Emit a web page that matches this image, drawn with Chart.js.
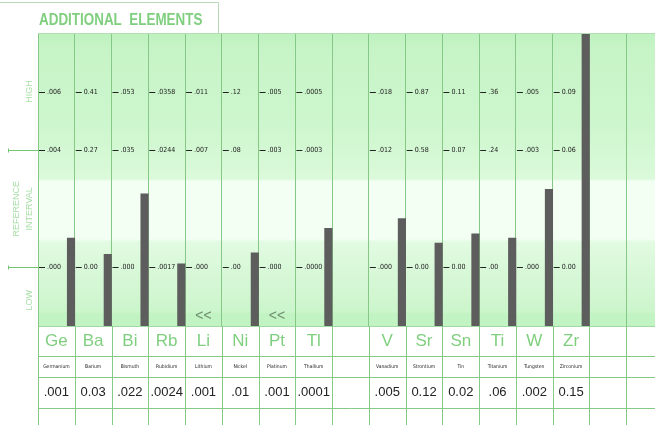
<!DOCTYPE html>
<html><head><meta charset="utf-8">
<script src="https://cdn.jsdelivr.net/npm/chart.js@4.4.0/dist/chart.umd.min.js"></script>
<style>html,body{margin:0;padding:0;overflow:hidden;background:#fff;width:655px;height:425px}canvas{display:block}</style>
</head><body><canvas id="c" width="663" height="425"></canvas>
<script>
// ---- data ----
const symbols   = ['Ge','Ba','Bi','Rb','Li','Ni','Pt','Tl','','V','Sr','Sn','Ti','W','Zr','',''];
const names     = ['Germanium','Barium','Bismuth','Rubidium','Lithium','Nickel','Platinum','Thallium','','Vanadium','Strontium','Tin','Titanium','Tungsten','Zirconium','',''];
const resultText= ['.001','0.03','.022','.0024','.001','.01','.001','.0001','','.005','0.12','0.02','.06','.002','0.15','',''];
const lowRef    = ['.000','0.00','.000','.0017','.000','.00','.000','.0000','','.000','0.00','0.00','.00','.000','0.00','',''];
const highRef   = ['.004','0.27','.035','.0244','.007','.08','.003','.0003','','.012','0.58','0.07','.24','.003','0.06','',''];
const highLevel = ['.006','0.41','.053','.0358','.011','.12','.005','.0005','','.018','0.87','0.11','.36','.005','0.09','',''];
const belowFlag = [false,false,false,false,true,false,true,false,false,false,false,false,false,false,false,false,false];
const tickLevels = [0, 1, 1.5];          // low ref, high ref, "high" marker (in reference-interval units)
const zoneLabels = [['HIGH'], ['REFERENCE','INTERVAL'], ['LOW']];
const zoneLevels = [1.5, 0.5, -0.28];
const heading = 'ADDITIONAL  ELEMENTS';

// bar heights expressed in reference-interval units: (result-low)/(high-low)
const barValues = resultText.map((t, i) => {
  if (!t || belowFlag[i]) return null;
  const v = parseFloat(t), lo = parseFloat(lowRef[i]), hi = parseFloat(highRef[i]);
  return (v - lo) / (hi - lo);
});

const NARROW = "'Liberation Sans Narrow','Arial Narrow','DejaVu Sans Condensed',sans-serif";
const SANS = "'Liberation Sans',Arial,sans-serif";
const GREEN_TXT = '#7fcf7f';
const LINE = '#86c986';
const BAR_W = 7.5;

const bgPlugin = {
  id: 'bg',
  beforeDraw(chart) {
    const {ctx, chartArea: a} = chart;
    const h = a.bottom - a.top;
    const g = ctx.createLinearGradient(0, a.top, 0, a.bottom);
    const st = (py, c) => g.addColorStop(Math.min(1, Math.max(0, (py - a.top) / h)), c);
    st(33,'#bff1bf'); st(50,'#c7f4c7'); st(120,'#cdf6cd'); st(150,'#d3f8d3'); st(179,'#dbfadb');
    st(181,'#f3fff3'); st(239,'#f3fff3'); st(242,'#e2fbe2'); st(268,'#d9f8d9'); st(300,'#d0f6d0');
    st(312,'#cbf5cb'); st(314,'#c2f3c2'); st(326,'#c2f3c2');
    ctx.save();
    ctx.fillStyle = g;
    ctx.fillRect(a.left, a.top, chart.width - a.left, h);
    ctx.restore();
  }
};

const shiftPlugin = {
  id: 'shift',
  beforeDatasetDraw(chart) {
    const x = chart.scales.x;
    const colW = x.width / symbols.length;
    chart.ctx.save();
    chart.ctx.translate(colW / 2 - BAR_W / 2, 0);
  },
  afterDatasetDraw(chart) { chart.ctx.restore(); }
};

const decoPlugin = {
  id: 'deco',
  afterDraw(chart) {
    const {ctx, chartArea: a, scales: {x, y, xVal}} = chart;
    const colW = x.width / symbols.length;
    ctx.save();
    // header tab outline + heading
    ctx.strokeStyle = '#b9dab9'; ctx.lineWidth = 1;
    ctx.beginPath(); ctx.moveTo(0, 2.5); ctx.lineTo(218.5, 2.5); ctx.lineTo(218.5, a.top); ctx.stroke();
    ctx.save();
    ctx.fillStyle = GREEN_TXT;
    ctx.font = `bold 17px ${SANS}`;
    ctx.textAlign = 'left'; ctx.textBaseline = 'alphabetic';
    ctx.translate(39, 25); ctx.scale(0.79, 1);
    ctx.fillText(heading, 0, 0);
    ctx.restore();
    // top edge of the chart area
    ctx.strokeStyle = '#b3ddb3';
    ctx.beginPath(); ctx.moveTo(a.left, a.top + 0.5); ctx.lineTo(chart.width, a.top + 0.5); ctx.stroke();
    // table grid
    ctx.strokeStyle = LINE;
    for (let i = 0; i <= symbols.length; i++) {
      const px = Math.round(a.left + i * colW) + 0.5;
      ctx.beginPath(); ctx.moveTo(px, a.bottom); ctx.lineTo(px, chart.height); ctx.stroke();
    }
    const yb = Math.round(xVal.bottom) + 0.5;
    ctx.beginPath(); ctx.moveTo(a.left, yb); ctx.lineTo(chart.width, yb); ctx.stroke();
    // left axis marks
    ctx.strokeStyle = '#74c474';
    [0, 1].forEach(l => {
      const py = Math.round(y.getPixelForValue(l)) + 0.5;
      ctx.beginPath(); ctx.moveTo(8, py); ctx.lineTo(a.left, py); ctx.stroke();
      ctx.beginPath(); ctx.moveTo(8.5, py - 2); ctx.lineTo(8.5, py + 2); ctx.stroke();
    });
    // zone labels (rotated)
    ctx.fillStyle = '#a6dea6';
    ctx.font = `9px ${SANS}`;
    ctx.textAlign = 'center'; ctx.textBaseline = 'middle';
    zoneLabels.forEach((lines, k) => {
      const py = y.getPixelForValue(zoneLevels[k]);
      lines.forEach((t, j) => {
        const px = 30 - (lines.length - 1 - j) * 13;
        ctx.save(); ctx.translate(px, py); ctx.rotate(-Math.PI / 2);
        ctx.fillText(t, 0, 0); ctx.restore();
      });
    });
    // per-column scale labels
    ctx.font = `7px ${NARROW}`;
    ctx.textAlign = 'left';
    ctx.fillStyle = '#222'; ctx.strokeStyle = '#222';
    symbols.forEach((s, i) => {
      if (!s) return;
      const left = x.getPixelForValue(i) - colW / 2;
      [lowRef[i], highRef[i], highLevel[i]].forEach((txt, k) => {
        const py = Math.round(y.getPixelForValue(tickLevels[k])) + 0.5;
        ctx.beginPath(); ctx.moveTo(left + 1, py); ctx.lineTo(left + 7, py); ctx.stroke();
        ctx.fillText(txt, left + 9, py);
      });
    });
    // below-range markers
    ctx.font = `14px ${SANS}`;
    ctx.textAlign = 'center';
    ctx.fillStyle = '#6f8c6f';
    symbols.forEach((s, i) => {
      if (belowFlag[i]) ctx.fillText('<<', x.getPixelForValue(i), a.bottom - 10);
    });
    ctx.restore();
  }
};

new Chart(document.getElementById('c'), {
  type: 'bar',
  data: {
    labels: symbols,
    datasets: [{
      data: barValues,
      backgroundColor: '#5d5d5d',
      borderWidth: 0,
      barThickness: BAR_W,
      base: -0.5,
      clip: 0
    }]
  },
  options: {
    responsive: false,
    animation: false,
    devicePixelRatio: 1,
    layout: { padding: { left: 38, top: 33, right: 0, bottom: 17 } },
    plugins: {
      legend: { display: false },
      tooltip: { enabled: false },
      title: { display: false }
    },
    scales: {
      y: { display: false, min: -0.5, max: 2 },
      x: {
        type: 'category', position: 'bottom', weight: 1, offset: true,
        grid: { offset: true, color: LINE, drawTicks: false, drawOnChartArea: true },
        border: { display: true, color: '#a3d9a3' },
        ticks: { color: GREEN_TXT, font: { family: SANS, size: 17, lineHeight: 1.2 }, padding: 4.8, autoSkip: false, maxRotation: 0 }
      },
      xName: {
        type: 'category', labels: names, position: 'bottom', weight: 2, offset: true,
        grid: { offset: true, drawTicks: false, drawOnChartArea: false },
        border: { display: true, color: LINE },
        ticks: { color: '#222', font: { family: NARROW, size: 5, lineHeight: 1.2 }, padding: 7.5, autoSkip: false, maxRotation: 0 }
      },
      xVal: {
        type: 'category', labels: resultText, position: 'bottom', weight: 3, offset: true,
        grid: { offset: true, drawTicks: false, drawOnChartArea: false },
        border: { display: true, color: LINE },
        ticks: { color: '#222', font: { family: SANS, size: 13, lineHeight: 1.2 }, padding: 7.7, autoSkip: false, maxRotation: 0 }
      }
    }
  },
  plugins: [bgPlugin, shiftPlugin, decoPlugin]
});
</script>
</body></html>
